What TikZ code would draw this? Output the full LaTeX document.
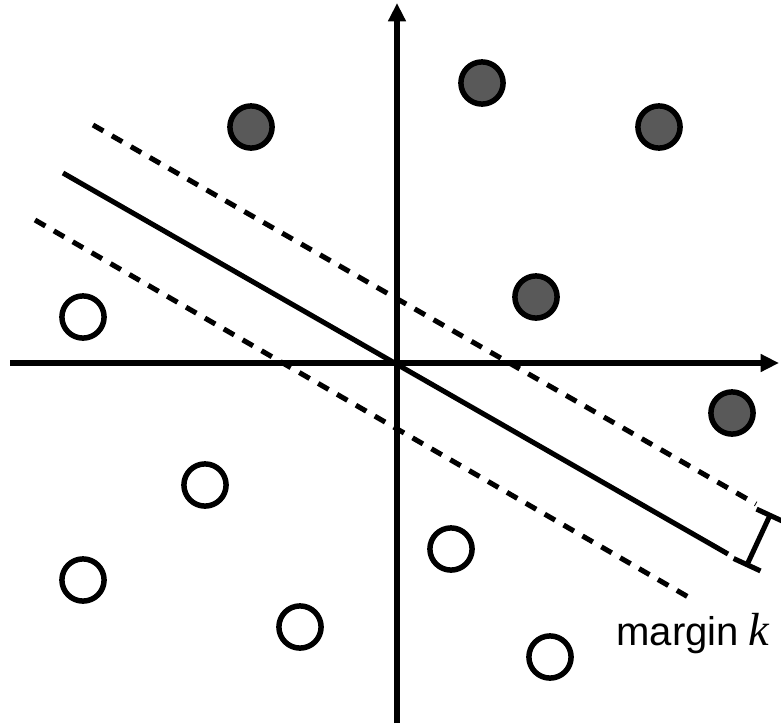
\documentclass[tikz,border=0pt]{standalone}
\usepackage{fontspec}
\setmainfont{Liberation Sans}
\newfontfamily\kfont{Liberation Serif}
\usepackage{tikz}
\usetikzlibrary{arrows.meta, positioning}

\begin{document}
\begin{tikzpicture}[x=0.025cm, y=-0.025cm, line width=3.6pt,
    sample/.style={circle, draw=black, line width=3.9pt, minimum size=30pt, inner sep=0pt},
    possample/.style={sample, fill=black!65},
    negsample/.style={sample, fill=white},
    axis/.style={-{Triangle[length=13pt, width=12pt]}},
    bound/.style={dash pattern=on 8.5pt off 7pt}]
    \useasboundingbox (0,0) rectangle (781,723);
    % axes
    \coordinate (xl) at (10,363);
    \coordinate (xr) at (779,363);
    \coordinate (yb) at (397,723);
    \coordinate (yt) at (397,3);
    \draw[axis] (xl) -- (xr);
    \draw[axis] (yb) -- (yt);
    % separating line and margin lines
    \coordinate (sA) at (63,173);
    \coordinate (sB) at (728,554);
    \coordinate (uA) at (93,125);
    \coordinate (uB) at (756,504);
    \coordinate (lA) at (35,220);
    \coordinate (lB) at (690,598);
    \draw (sA) -- (sB);
    \draw[bound] (uA) -- (uB);
    \draw[bound] (lA) -- (lB);
    % margin
    \coordinate (mtop) at (771,513);
    \coordinate (mbot) at (746,567);
    \draw[{Bar[width=21pt]}-{Bar[width=21pt]}] (mtop) -- (mbot);
    \node[anchor=base west, inner sep=0pt, font=\fontsize{28.5}{34}\selectfont]
        (marg) at (614,645) {margin\hspace{7pt}{\kfont\itshape\fontsize{33}{38}\selectfont k}};
    % samples
    \foreach \x/\y [count=\n] in {251/127, 482/83, 659/127, 536/297, 732/413}
        \node[possample] (p\n) at (\x,\y) {};
    \foreach \x/\y [count=\n] in {83/317, 205/485, 83/580, 300/627, 451/549, 550/657}
        \node[negsample] (q\n) at (\x,\y) {};
\end{tikzpicture}
\end{document}
